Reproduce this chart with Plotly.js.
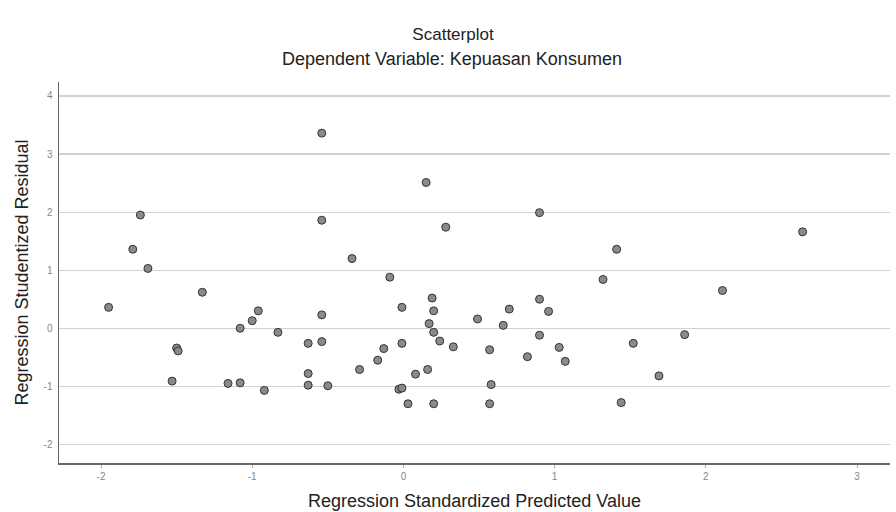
<!DOCTYPE html>
<html>
<head>
<meta charset="utf-8">
<script src="https://cdn.plot.ly/plotly-3.0.1.min.js"></script>
<style>
html,body{margin:0;padding:0;background:#fff;}
#chart{width:896px;height:512px;}
</style>
</head>
<body>
<div id="chart"></div>
<script>
// Regression Standardized Predicted Value
var predicted = [-1.95,-1.74,-1.79,-1.69,-1.33,-1.53,-1.50,-1.49,-1.16,-1.08,
  -1.08,-1.00,-0.96,-0.92,-0.83,-0.63,-0.63,-0.63,-0.54,-0.54,
  -0.54,-0.54,-0.50,-0.34,-0.29,-0.17,-0.13,-0.09,-0.03,-0.01,
  -0.01,-0.01,0.03,0.08,0.15,0.16,0.17,0.19,0.20,0.20,
  0.20,0.24,0.28,0.33,0.49,0.57,0.58,0.57,0.66,0.70,
  0.82,0.90,0.90,0.90,0.96,1.03,1.07,1.32,1.41,1.44,
  1.52,1.69,1.86,2.11,2.64];
// Regression Studentized Residual
var residual = [0.36,1.95,1.36,1.03,0.62,-0.91,-0.34,-0.39,-0.95,-0.94,
  0.00,0.13,0.30,-1.07,-0.07,-0.26,-0.78,-0.98,3.36,1.86,
  0.23,-0.23,-0.99,1.20,-0.71,-0.55,-0.35,0.88,-1.05,-1.03,
  0.36,-0.26,-1.30,-0.79,2.51,-0.71,0.08,0.52,0.30,-0.07,
  -1.30,-0.22,1.74,-0.32,0.16,-0.37,-0.97,-1.30,0.05,0.33,
  -0.49,1.99,0.50,-0.12,0.29,-0.33,-0.57,0.84,1.36,-1.28,
  -0.26,-0.82,-0.11,0.65,1.66];
var xTickVals = [-2,-1,0,1,2,3];
var xTickText = ['-2','-1','0','1','2','3'];
var yTickVals = [-2,-1,0,1,2,3,4];
var yTickText = ['-2','-1','0','1','2','3','4'];
var chartTitle = 'Scatterplot';
var chartSubtitle = 'Dependent Variable: Kepuasan Konsumen';
var xTitle = 'Regression Standardized Predicted Value';
var yTitle = 'Regression Studentized Residual';

var FONT = '"Liberation Sans", Arial, sans-serif';

var trace = {
  type: 'scatter',
  mode: 'markers',
  x: predicted,
  y: residual,
  marker: {size: 8, color: '#8a8a8a', line: {color: '#333333', width: 1}},
  hoverinfo: 'x+y'
};

var layout = {
  width: 896, height: 512,
  margin: {l: 59, r: 6, t: 82, b: 49},
  paper_bgcolor: '#ffffff',
  plot_bgcolor: '#ffffff',
  showlegend: false,
  font: {family: FONT, color: '#222'},
  title: {
    text: chartTitle,
    font: {family: FONT, size: 17, color: '#222'},
    x: 453/896, xanchor: 'center',
    y: 1 - 34/512, yanchor: 'middle',
    xref: 'container', yref: 'container'
  },
  annotations: [{
    text: chartSubtitle,
    xref: 'paper', yref: 'paper',
    x: (452-59)/831, y: (463-59)/381,
    xanchor: 'center', yanchor: 'middle',
    showarrow: false,
    font: {family: FONT, size: 18, color: '#222'}
  }],
  xaxis: {
    range: [-2.278, 3.218],
    tickvals: xTickVals, ticktext: xTickText,
    showgrid: false, zeroline: false,
    showline: true, linecolor: '#666', linewidth: 1.5,
    ticks: 'outside', ticklen: 3, tickcolor: '#aaa',
    tickfont: {family: FONT, size: 10, color: '#888'},
    title: {text: xTitle, font: {family: FONT, size: 18, color: '#222'}, standoff: 14},
    automargin: false
  },
  yaxis: {
    range: [-2.32, 4.24],
    tickvals: yTickVals, ticktext: yTickText,
    showgrid: true, gridcolor: '#d2d2d2', gridwidth: 1.2,
    zeroline: false,
    showline: true, linecolor: '#666', linewidth: 1.5,
    ticks: 'outside', ticklen: 3, tickcolor: '#fff',
    tickfont: {family: FONT, size: 10, color: '#888'},
    title: {text: yTitle, font: {family: FONT, size: 18, color: '#222'}, standoff: 10},
    automargin: false
  }
};

Plotly.newPlot('chart', [trace], layout, {displayModeBar: false, staticPlot: true});
</script>
</body>
</html>
